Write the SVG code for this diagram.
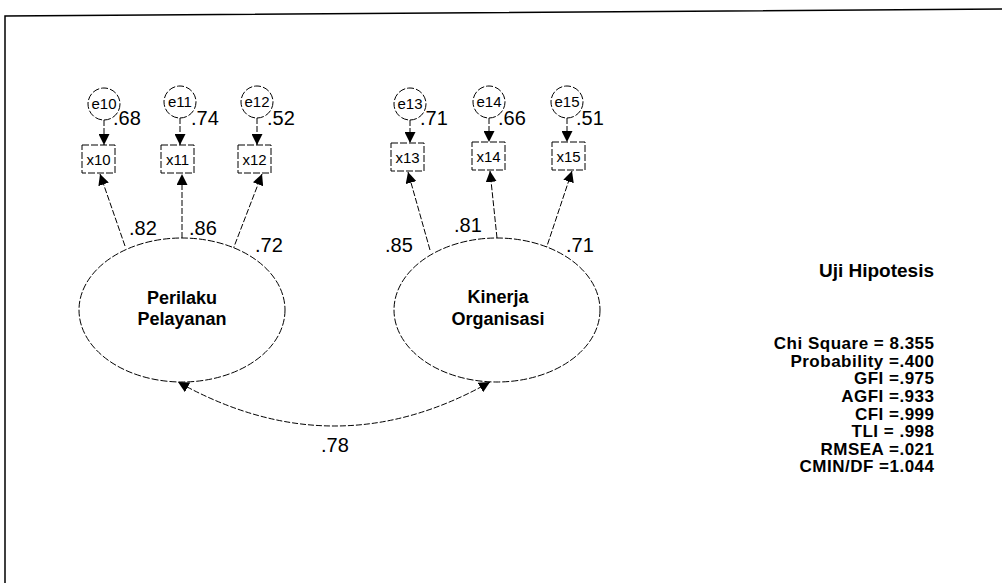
<svg xmlns="http://www.w3.org/2000/svg" width="1002" height="583" viewBox="0 0 1002 583">
<defs>
<marker id="ah" viewBox="0 0 10 10" refX="10" refY="5" markerWidth="11" markerHeight="11" markerUnits="userSpaceOnUse" orient="auto-start-reverse">
<path d="M0,0 L10,5 L0,10 z" fill="#000"/>
</marker>
<style>
.f{fill:none;stroke:#000;stroke-width:1.5}
.sh{fill:#fff;stroke:#000;stroke-width:1;stroke-dasharray:7 2}
.c{fill:none;stroke:#000;stroke-width:1;stroke-dasharray:6 2;marker-end:url(#ah)}
.e{font-family:"Liberation Sans",Arial,sans-serif;font-size:15px;text-anchor:middle}
.v{font-family:"Liberation Sans",Arial,sans-serif;font-size:20px}
.l{font-family:"Liberation Sans",Arial,sans-serif;font-size:18px;font-weight:bold;text-anchor:middle}
.s{font-family:"Liberation Sans",Arial,sans-serif;font-size:17px;letter-spacing:0.5px;font-weight:bold;text-anchor:end}
.t{font-family:"Liberation Sans",Arial,sans-serif;font-size:19px;font-weight:bold;text-anchor:end}
</style>
</defs>
<rect width="1002" height="583" fill="#fff"/>
<path class="f" d="M5,583 L5,16 L1002,9"/>
<g id="connectors">
<line class="c" x1="104" y1="120" x2="104" y2="145"/>
<line class="c" x1="180" y1="118" x2="180" y2="145"/>
<line class="c" x1="257" y1="118" x2="257" y2="145"/>
<line class="c" x1="410" y1="120" x2="410" y2="143"/>
<line class="c" x1="489" y1="118" x2="489" y2="142"/>
<line class="c" x1="567" y1="118" x2="567" y2="142"/>
<line class="c" x1="125" y1="246" x2="100" y2="174"/>
<line class="c" x1="182" y1="238" x2="182" y2="174"/>
<line class="c" x1="232" y1="252" x2="262" y2="174"/>
<line class="c" x1="430" y1="250" x2="408" y2="172"/>
<line class="c" x1="497" y1="238" x2="490" y2="171"/>
<line class="c" x1="545" y1="252" x2="572" y2="171"/>
<path class="c" d="M490,382 Q335,470 178,382" style="marker-start:url(#ah)"/>
</g>
<g id="e10"><circle class="sh" cx="104" cy="104" r="16"/><text class="e" x="104" y="109">e10</text></g>
<g id="e11"><circle class="sh" cx="180" cy="102" r="16"/><text class="e" x="180" y="107">e11</text></g>
<g id="e12"><circle class="sh" cx="257" cy="102" r="16"/><text class="e" x="257" y="107">e12</text></g>
<g id="e13"><circle class="sh" cx="410" cy="104" r="16"/><text class="e" x="410" y="109">e13</text></g>
<g id="e14"><circle class="sh" cx="489" cy="102" r="16"/><text class="e" x="489" y="107">e14</text></g>
<g id="e15"><circle class="sh" cx="567" cy="102" r="16"/><text class="e" x="567" y="107">e15</text></g>
<g id="x10"><rect class="sh" x="82" y="145" width="33" height="28"/><text class="e" x="98.5" y="164.5">x10</text></g>
<g id="x11"><rect class="sh" x="161" y="145" width="33" height="28"/><text class="e" x="177.5" y="164.5">x11</text></g>
<g id="x12"><rect class="sh" x="238" y="145" width="33" height="28"/><text class="e" x="254.5" y="164.5">x12</text></g>
<g id="x13"><rect class="sh" x="391" y="143" width="33" height="28"/><text class="e" x="407.5" y="162.5">x13</text></g>
<g id="x14"><rect class="sh" x="472" y="142" width="33" height="28"/><text class="e" x="488.5" y="161.5">x14</text></g>
<g id="x15"><rect class="sh" x="552" y="142" width="33" height="28"/><text class="e" x="568.5" y="161.5">x15</text></g>
<g id="perilaku"><ellipse class="sh" cx="182" cy="310" rx="103" ry="72"/><text class="l" x="182" y="304">Perilaku</text><text class="l" x="182" y="325">Pelayanan</text></g>
<g id="kinerja"><ellipse class="sh" cx="497" cy="310" rx="103" ry="72"/><text class="l" x="498" y="303">Kinerja</text><text class="l" x="498" y="325">Organisasi</text></g>
<g id="values">
<text class="v" x="113" y="125">.68</text>
<text class="v" x="191" y="125">.74</text>
<text class="v" x="267" y="125">.52</text>
<text class="v" x="420" y="125">.71</text>
<text class="v" x="498" y="125">.66</text>
<text class="v" x="576" y="125">.51</text>
<text class="v" x="129" y="235">.82</text>
<text class="v" x="189" y="235">.86</text>
<text class="v" x="255" y="252">.72</text>
<text class="v" x="385" y="252">.85</text>
<text class="v" x="454" y="232">.81</text>
<text class="v" x="566" y="252">.71</text>
<text class="v" x="321" y="452">.78</text>
</g>
<g id="stats">
<text class="t" x="934" y="277">Uji Hipotesis</text>
<text class="s" x="934.5" y="349">Chi Square = 8.355</text>
<text class="s" x="934.5" y="367">Probability =.400</text>
<text class="s" x="934.5" y="384">GFI =.975</text>
<text class="s" x="934.5" y="402">AGFI =.933</text>
<text class="s" x="934.5" y="420">CFI =.999</text>
<text class="s" x="934.5" y="437">TLI = .998</text>
<text class="s" x="934.5" y="455">RMSEA =.021</text>
<text class="s" x="934.5" y="472">CMIN/DF =1.044</text>
</g>
</svg>
